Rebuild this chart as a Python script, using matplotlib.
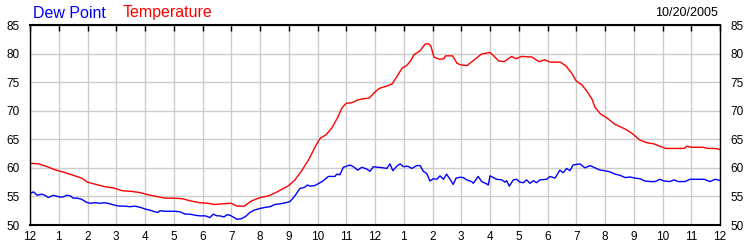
import numpy as np
import matplotlib
matplotlib.use('Agg')
import matplotlib.pyplot as plt

# Hourly positions (0 = midnight) and readings, deg F
temp_hours = [0, 0.3, 0.6, 0.9, 1.2, 1.5, 1.8, 2.0, 2.3, 2.6, 2.9, 3.2, 3.5, 3.8, 4.1, 4.4, 4.7,
              5.0, 5.3, 5.6, 5.9, 6.2, 6.4, 6.7, 7.0, 7.2, 7.45, 7.7, 8.0, 8.3, 8.6, 9.0, 9.2,
              9.45, 9.7, 9.95, 10.1, 10.3, 10.5, 10.7, 10.85, 11.0, 11.2, 11.4, 11.6, 11.8, 12.0,
              12.15, 12.4, 12.6, 12.8, 12.95, 13.1, 13.25, 13.35, 13.55, 13.75, 13.88, 13.95,
              14.05, 14.25, 14.4, 14.45, 14.7, 14.85, 15.0, 15.2, 15.35, 15.5, 15.7, 16.0, 16.15,
              16.3, 16.5, 16.75, 16.9, 17.1, 17.45, 17.7, 17.9, 18.1, 18.45, 18.65, 18.85, 19.0,
              19.2, 19.4, 19.55, 19.65, 19.85, 20.05, 20.35, 20.7, 20.95, 21.2, 21.45, 21.7,
              21.95, 22.1, 22.4, 22.75, 22.85, 23.0, 23.4, 23.6, 23.85, 24.0]
temperature = [60.8, 60.7, 60.2, 59.6, 59.2, 58.7, 58.2, 57.5, 57.1, 56.7, 56.5, 56.0, 55.9, 55.7,
               55.3, 55.0, 54.7, 54.7, 54.6, 54.2, 53.9, 53.8, 53.6, 53.7, 53.8, 53.3, 53.3, 54.2,
               54.8, 55.1, 55.8, 56.9, 57.8, 59.5, 61.5, 64.0, 65.2, 65.8, 67.0, 68.8, 70.5, 71.3,
               71.4, 71.9, 72.1, 72.2, 73.3, 73.9, 74.3, 74.7, 76.3, 77.5, 77.9, 78.8, 79.8, 80.4,
               81.7, 81.7, 81.2, 79.4, 79.0, 79.1, 79.6, 79.6, 78.3, 78.0, 77.9, 78.5, 79.1, 79.9,
               80.2, 79.5, 78.7, 78.6, 79.5, 79.1, 79.5, 79.4, 78.6, 78.9, 78.5, 78.5, 77.8, 76.5,
               75.2, 74.5, 73.2, 72.0, 70.6, 69.4, 68.8, 67.6, 66.8, 66.0, 64.9, 64.4, 64.2, 63.7,
               63.4, 63.4, 63.4, 63.8, 63.6, 63.6, 63.4, 63.4, 63.2]

dew_hours = [0, 0.12, 0.25, 0.4, 0.52, 0.64, 0.81, 0.95, 1.04, 1.15, 1.28, 1.4, 1.5, 1.65, 1.8,
             1.95, 2.09, 2.25, 2.43, 2.6, 2.78, 3.0, 3.13, 3.3, 3.48, 3.65, 3.83, 4.0, 4.17, 4.35,
             4.45, 4.52, 4.7, 4.87, 5.05, 5.22, 5.4, 5.57, 5.75, 5.91, 6.1, 6.26, 6.37, 6.5, 6.61,
             6.75, 6.85, 6.96, 7.1, 7.2, 7.35, 7.5, 7.65, 7.8, 8.0, 8.2, 8.35, 8.52, 8.7, 8.9,
             9.04, 9.2, 9.39, 9.55, 9.65, 9.74, 9.9,
             10.09, 10.2, 10.38, 10.61, 10.67, 10.78, 10.9, 11.13, 11.25, 11.4, 11.54, 11.71,
             11.83, 11.94, 12.29, 12.41, 12.52, 12.62, 12.76, 12.87, 12.99, 13.13, 13.28, 13.45,
             13.57, 13.68, 13.8, 13.91, 14.03, 14.15, 14.26, 14.38, 14.49, 14.61, 14.72, 14.82,
             14.96, 15.07, 15.19, 15.36, 15.42, 15.59, 15.71, 15.88, 15.94, 16.0, 16.23, 16.41,
             16.52, 16.58, 16.67, 16.81, 16.93, 17.04, 17.16, 17.27, 17.39, 17.51, 17.62, 17.74,
             17.97, 18.09, 18.26, 18.43, 18.55, 18.66, 18.78, 18.89, 19.13,
             19.3, 19.48, 19.65, 19.83, 20.0, 20.17, 20.35, 20.52, 20.7,
             20.87, 21.05, 21.22, 21.39, 21.57, 21.75, 21.91, 22.05, 22.26, 22.4, 22.55, 22.78,
             22.96, 23.2, 23.45, 23.65, 23.83, 24.0]
dew_point = [55.5, 55.8, 55.2, 55.4, 55.2, 54.8, 55.2, 55.0, 54.9, 54.9, 55.2, 55.1, 54.7, 54.7,
             54.5, 54.0, 53.8, 53.9, 53.8, 53.9, 53.7, 53.4, 53.3, 53.3, 53.2, 53.3, 53.1, 52.8,
             52.6, 52.3, 52.2, 52.5, 52.4, 52.4, 52.4, 52.3, 51.9, 51.9, 51.7, 51.6, 51.6, 51.3,
             51.9, 51.6, 51.6, 51.4, 51.8, 51.7, 51.3, 51.0, 51.1, 51.5, 52.2, 52.6, 52.9, 53.1,
             53.2, 53.6, 53.7, 53.9, 54.1, 55.0, 56.4, 56.6, 57.0, 56.8, 56.9,
             57.4, 57.75, 58.5, 58.5, 58.9, 58.8, 60.1, 60.5, 60.2, 59.6, 60.1, 59.8,
             59.4, 60.2, 60.0, 59.9, 60.7, 59.5, 60.3, 60.7, 60.2, 60.3, 59.9, 60.4,
             60.4, 59.4, 59.0, 57.7, 58.1, 58.0, 58.6, 58.0, 58.9, 58.0, 57.1, 58.2,
             58.35, 58.3, 57.9, 57.6, 57.3, 58.5, 57.6, 57.2, 57.0, 58.6, 58.0, 57.9,
             57.5, 57.75, 56.8, 57.9, 58.0, 57.5, 57.4, 57.9, 57.3, 57.75, 57.4, 57.9,
             58.0, 58.5, 58.2, 59.6, 59.15, 59.9, 59.5, 60.5, 60.7,
             60.0, 60.4, 60.0, 59.6, 59.5, 59.3, 58.9, 58.7, 58.3,
             58.4, 58.2, 58.1, 57.7, 57.6, 57.6, 58.0, 57.7, 57.6, 57.9, 57.6, 57.6,
             58.0, 58.0, 58.0, 57.6, 58.0, 57.8]

hour_labels = ['12', '1', '2', '3', '4', '5', '6', '7', '8', '9', '10', '11',
               '12', '1', '2', '3', '4', '5', '6', '7', '8', '9', '10', '11', '12']
y_ticks = [50, 55, 60, 65, 70, 75, 80, 85]
date_label = '10/20/2005'

plt.rcParams['font.family'] = ['Liberation Sans', 'DejaVu Sans']

fig = plt.figure(figsize=(7.5, 2.5), dpi=100)
ax = fig.add_axes([30/750, 25/250, 690/750, 200/250])

ax.plot(temp_hours, temperature, color='#ff0000', lw=1.0)
ax.plot(dew_hours, dew_point, color='#0000ff', lw=1.0)

ax.set_xlim(0, 24)
ax.set_ylim(50, 85)
ax.set_xticks(np.arange(25))
ax.set_xticklabels(hour_labels)
ax.set_yticks(y_ticks)
ax.grid(True, color='#cccccc', lw=1.0)
ax.set_axisbelow(True)

ax.tick_params(axis='x', which='both', bottom=False, top=True, direction='in',
               length=4, width=1, labelsize=8.5, pad=4, color='black')
ax.tick_params(axis='y', which='both', left=False, right=False,
               labelleft=True, labelright=True, labelsize=8.5, pad=4)
for s in ax.spines.values():
    s.set_color('black')
    s.set_linewidth(1.0)
ax.spines['top'].set_linewidth(1.5)
ax.spines['bottom'].set_linewidth(1.5)

fig.text(33/750, 1 - 13/250, 'Dew Point', color='#0000ff', fontsize=11.5, va='center', ha='left')
fig.text(123/750, 1 - 13/250, 'Temperature', color='#ff0000', fontsize=11.5, va='center', ha='left')
fig.text(718/750, 1 - 13/250, date_label, color='black', fontsize=9, va='center', ha='right')

fig.savefig('out.png', dpi=100)
